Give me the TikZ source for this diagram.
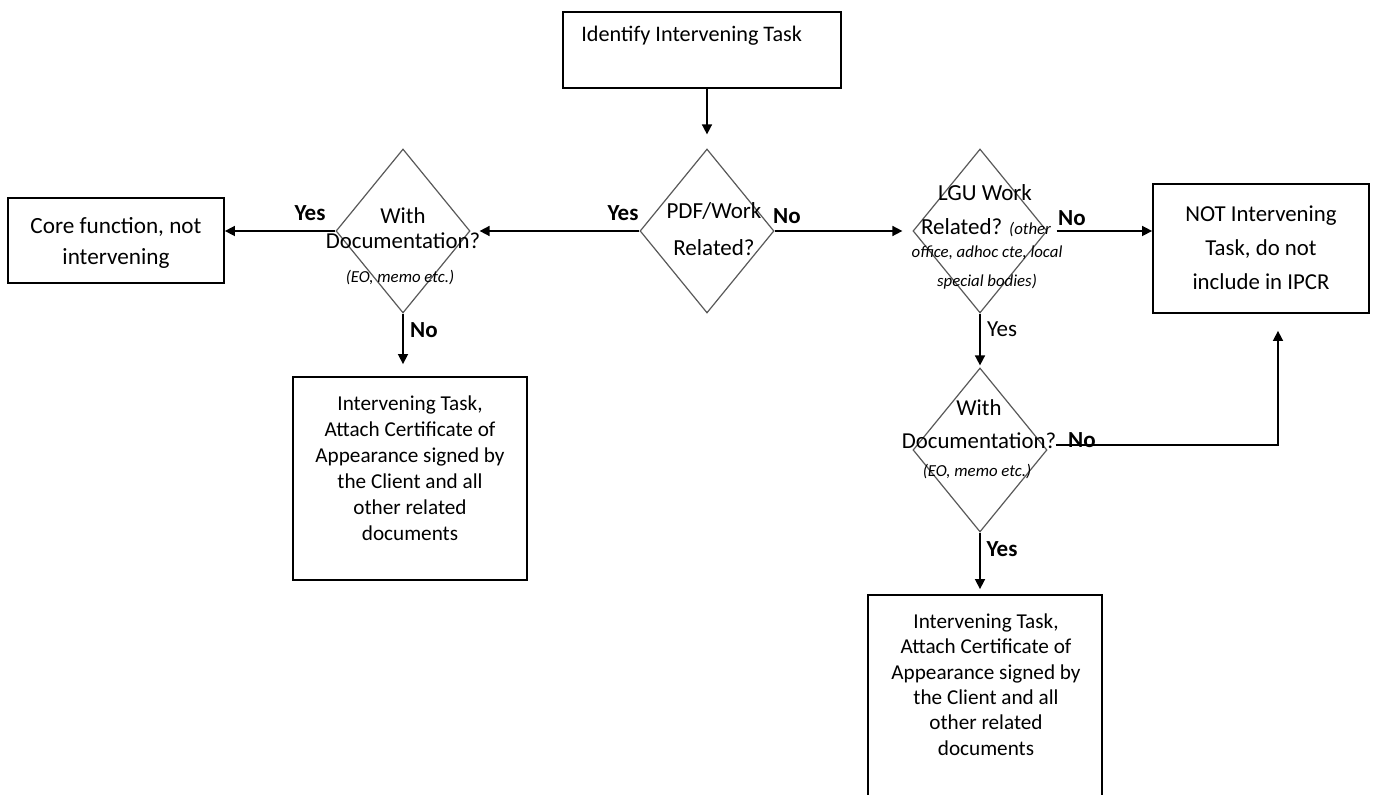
\documentclass[tikz,border=0pt]{standalone}
\usepackage{fontspec}
\setmainfont{Carlito}
\usetikzlibrary{shapes.geometric,arrows.meta,calc}
\begin{document}
\begin{tikzpicture}[x=0.5pt,y=-0.5pt,
  box/.style={draw=black,line width=0.9pt,inner sep=0pt,rectangle},
  dia/.style={draw=black!65,line width=0.6pt,diamond,inner sep=0pt,minimum width=67pt,minimum height=82pt},
  conn/.style={draw=black,line width=0.8pt,-{Triangle[length=5pt,width=5pt]}},
  btxt/.style={inner sep=0pt,align=center,font=\fontsize{10.6}{12.8}\selectfont},
  lbl/.style={inner sep=0pt,font=\fontsize{11.5}{13}\selectfont\bfseries},
  lbln/.style={inner sep=0pt,font=\fontsize{11.5}{13}\selectfont},
  itx/.style={inner sep=0pt,align=center,font=\fontsize{8.4}{10}\selectfont\itshape}]
\useasboundingbox (0,0) rectangle (1373,795);
\clip (0,0) rectangle (1373,795);
\fill[white] (0,0) rectangle (1373,795);

% boxes
\node[box,minimum width=139pt,minimum height=38pt] (top) at (702,50) {};
\node[inner sep=0pt,anchor=west,font=\fontsize{11.1}{13}\selectfont] (toptxt) at (581,36) {Identify Intervening Task};

\node[box,minimum width=108pt,minimum height=42.5pt] (core) at (116,240.5) {};
\node[inner sep=0pt,align=center,font=\fontsize{11.6}{15.5}\selectfont] (coretxt) at (116,242.5) {Core function, not\\intervening};

\node[box,minimum width=108pt,minimum height=64.5pt] (notbox) at (1261,248.5) {};
\node[inner sep=0pt,align=center,font=\fontsize{11.4}{17}\selectfont] (nottxt) at (1261,248) {NOT Intervening\\Task, do not\\include in IPCR};

\node[box,minimum width=117pt,minimum height=101.5pt] (lbox) at (410,478.5) {};
\node[btxt,font=\fontsize{10.6}{13}\selectfont] (lboxtxt) at (410,468) {Intervening Task,\\Attach Certificate of\\Appearance signed by\\the Client and all\\other related\\documents};

\node[box,minimum width=117pt,minimum height=117.5pt] (bbox) at (985,712.5) {};
\node[btxt,font=\fontsize{10.6}{12.7}\selectfont] (bboxtxt) at (986,684.5) {Intervening Task,\\Attach Certificate of\\Appearance signed by\\the Client and all\\other related\\documents};

% diamonds
\node[dia] (pdf) at (707,231) {};
\node[inner sep=0pt,align=center,font=\fontsize{11.5}{18.5}\selectfont] (pdftxt) at (714,229) {PDF/Work\\Related?};

\node[dia] (ld) at (403,231) {};
\node[inner sep=0pt,align=center,font=\fontsize{11.4}{12.5}\selectfont] (ldtxt) at (403,228) {With\\Documentation?};
\node[itx] (ldit) at (400,278) {(EO, memo etc.)};

\node[dia] (lgu) at (980,231) {};
\node[inner sep=0pt,font=\fontsize{11.5}{13}\selectfont] (lgut1) at (985,193) {LGU Work};
\node[inner sep=0pt,font=\fontsize{11.5}{13}\selectfont] (lgut2) at (986,228) {Related? {\fontsize{8.4}{10}\selectfont\itshape (other}};
\node[itx,font=\fontsize{8.4}{14.5}\selectfont\itshape] (lgut3) at (987,268) {office, adhoc cte, local\\special bodies)};

\node[dia] (d2) at (980,450) {};
\node[inner sep=0pt,align=center,font=\fontsize{11.4}{16.5}\selectfont] (d2txt) at (979,424) {With\\Documentation?};
\node[itx] (d2it) at (977,472) {(EO, memo etc.)};

% connectors
\draw[conn,shorten >=7pt] (pdf.north |- top.south) -- (pdf.north);
\draw[conn,shorten >=4.5pt] (pdf.west) -- (ld.east);
\draw[conn] (ld.west) -- (ld.west -| core.east);
\draw[conn,shorten >=6pt] (ld.south) -- (ld.south |- lbox.north);
\draw[conn,shorten >=5pt] (pdf.east) -- (lgu.west);
\draw[conn,shorten <=4.5pt] (lgu.east) -- (lgu.east -| notbox.west);
\draw[conn,shorten >=1pt] (lgu.south) -- (d2.north);
\coordinate (d2out) at ($(d2.east)+(8,-5)$);
\draw[conn,shorten >=8.5pt] (d2out) -| ($(notbox.south)+(17,0)$);
\draw[conn,shorten >=2.5pt] (d2.south) -- (d2.south |- bbox.north);

% labels
\node[lbl] (y1) at (623,213) {Yes};
\node[lbl] (n1) at (787,216) {No};
\node[lbl] (y2) at (310,213) {Yes};
\node[lbl] (n2) at (424,330) {No};
\node[lbl] (n3) at (1072,218) {No};
\node[lbln] (y3) at (1002,329) {Yes};
\node[lbl] (n4) at (1082,440) {No};
\node[lbl] (y4) at (1002,549) {Yes};
\end{tikzpicture}
\end{document}
